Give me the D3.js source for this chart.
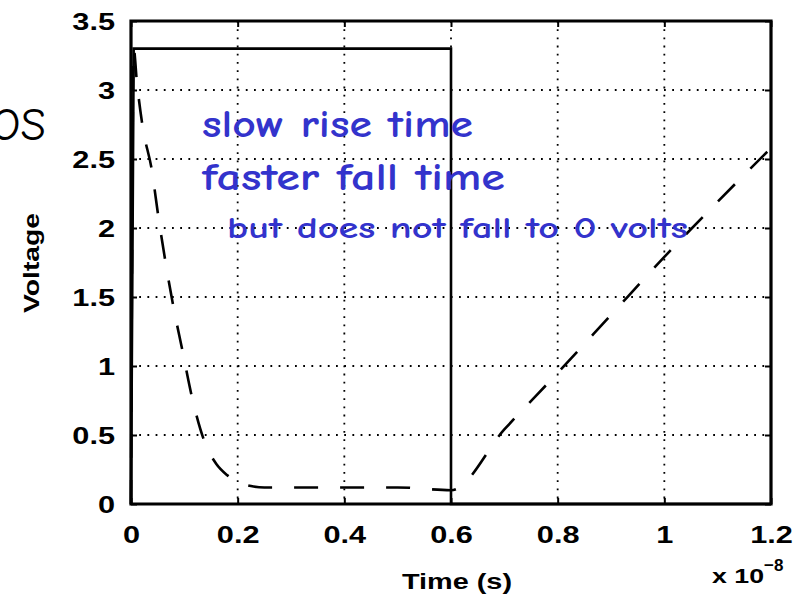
<!DOCTYPE html>
<html>
<head>
<meta charset="utf-8">
<script src="https://cdn.jsdelivr.net/npm/d3@7"></script>
<style>
body { margin: 0; background: #fff; }
svg { display: block; }
</style>
</head>
<body>
<svg id="chart" width="803" height="602"></svg>
<script>
// tick values (time axis is in units of 1e-8 s)
const xTicks = [0, 0.2, 0.4, 0.6, 0.8, 1, 1.2];
const yTicks = [0, 0.5, 1, 1.5, 2, 2.5, 3, 3.5];

// input pulse (solid)
const inTime = [0, 0.005, 0.6, 0.6, 1.2];
const inVolt = [0, 3.3, 3.3, 0, 0];

// output (dashed)
const outTime = [0, 0.005, 0.011, 0.022, 0.039, 0.051, 0.064, 0.079, 0.096, 0.114, 0.139, 0.16, 0.18, 0.2, 0.225, 0.25, 0.3, 0.4, 0.5, 0.6, 0.7, 0.8, 0.9, 1.0, 1.1, 1.2];
const outVolt = [0, 3.3, 3.06, 2.73, 2.42, 2.09, 1.77, 1.44, 1.12, 0.78, 0.44, 0.29, 0.21, 0.16, 0.13, 0.12, 0.12, 0.12, 0.12, 0.1, 0.54, 0.95, 1.37, 1.79, 2.19, 2.58];

const notes = ["slow rise time", "faster fall time", "but does not fall to 0 volts"];

const svg = d3.select("#chart");
const x = d3.scaleLinear().domain([0, 1.2]).range([131, 771]);
const y = d3.scaleLinear().domain([0, 3.5]).range([504, 21]);

const axisFont = "'Liberation Sans', Arial, sans-serif";
const noteFont = "'Comic Sans MS', 'Comic Neue', 'Open Sans', sans-serif";

// dotted grid
const grid = svg.append("g").attr("stroke", "#000").attr("stroke-width", 1.8)
    .attr("stroke-dasharray", "1.8,6.4");
grid.selectAll(".gx").data(xTicks.slice(1, -1)).enter().append("line")
    .attr("x1", d => x(d)).attr("x2", d => x(d))
    .attr("y1", y(3.5)).attr("y2", y(0));
grid.selectAll(".gy").data(yTicks.slice(1, -1)).enter().append("line")
    .attr("x1", x(0)).attr("x2", x(1.2))
    .attr("y1", d => y(d)).attr("y2", d => y(d));

// axes with inward ticks
function styleAxis(g) {
    g.select(".domain").remove();
    g.selectAll(".tick line").attr("stroke", "#000").attr("stroke-width", 2);
}
svg.append("g").attr("transform", `translate(0,${y(0)})`)
    .call(d3.axisBottom(x).tickValues(xTicks).tickSize(-6).tickSizeOuter(0).tickFormat(d => String(d)))
    .call(styleAxis)
    .call(g => g.selectAll(".tick text")
        .attr("y", 0).attr("dy", 0)
        .attr("transform", "translate(0,39) scale(1.28,1)")
        .attr("font-family", axisFont).attr("font-weight", "bold")
        .attr("font-size", 24).attr("fill", "#000"));
svg.append("g").attr("transform", `translate(0,${y(3.5)})`)
    .call(d3.axisTop(x).tickValues(xTicks).tickSize(-6).tickSizeOuter(0).tickFormat(""))
    .call(styleAxis);
svg.append("g").attr("transform", `translate(${x(0)},0)`)
    .call(d3.axisLeft(y).tickValues(yTicks).tickSize(-6).tickSizeOuter(0).tickFormat(d => String(d)))
    .call(styleAxis)
    .call(g => g.selectAll(".tick text")
        .attr("x", 0).attr("dy", "0.36em")
        .attr("transform", "translate(-16,0) scale(1.28,1)")
        .attr("font-family", axisFont).attr("font-weight", "bold")
        .attr("font-size", 24).attr("fill", "#000"));
svg.append("g").attr("transform", `translate(${x(1.2)},0)`)
    .call(d3.axisRight(y).tickValues(yTicks).tickSize(-6).tickSizeOuter(0).tickFormat(""))
    .call(styleAxis);

// lines
const line = d3.line().x(d => x(d[0])).y(d => y(d[1]));
svg.append("path")
    .datum(inTime.map((t, i) => [t, inVolt[i]]))
    .attr("d", line).attr("fill", "none").attr("stroke", "#000").attr("stroke-width", 2.6);
svg.append("path")
    .datum(outTime.map((t, i) => [t, outVolt[i]]))
    .attr("d", d3.line().x(d => x(d[0])).y(d => y(d[1])).curve(d3.curveMonotoneX))
    .attr("fill", "none").attr("stroke", "#000").attr("stroke-width", 2.6)
    .attr("stroke-dasharray", "24,22");

// frame
svg.append("path")
    .attr("d", `M${x(0)},${y(3.5)}H${x(1.2)}V${y(0)}H${x(0)}Z`)
    .attr("fill", "none").attr("stroke", "#000").attr("stroke-width", 3.2);

// axis titles
svg.append("text").attr("x", 457).attr("y", 589)
    .attr("text-anchor", "middle").attr("textLength", 110).attr("lengthAdjust", "spacingAndGlyphs")
    .attr("font-family", axisFont).attr("font-weight", "bold").attr("font-size", 22)
    .text("Time (s)");
svg.append("text").attr("transform", "translate(39,263) rotate(-90)")
    .attr("text-anchor", "middle").attr("textLength", 100).attr("lengthAdjust", "spacingAndGlyphs")
    .attr("font-family", axisFont).attr("font-weight", "bold").attr("font-size", 22)
    .text("Voltage");
const expo = svg.append("text").attr("x", 712).attr("y", 583)
    .attr("font-family", axisFont).attr("font-weight", "bold").attr("font-size", 21);
expo.append("tspan").attr("textLength", 52).attr("lengthAdjust", "spacingAndGlyphs").text("x 10");
expo.append("tspan").attr("dy", -12).attr("font-size", 17).text("\u22128");

// slide title fragment, cut off by the left edge as in the slide
svg.append("text").attr("x", 46).attr("y", 140).attr("text-anchor", "end")
    .attr("font-family", noteFont).attr("font-size", 46).attr("fill", "#000")
    .text("CMOS");

// annotations
const notePos = [[202, 137, 271, 38], [202, 190, 303, 38], [227, 238, 461, 31]];
svg.selectAll(".note").data(notes).enter().append("text")
    .attr("x", (d, i) => notePos[i][0]).attr("y", (d, i) => notePos[i][1])
    .attr("textLength", (d, i) => notePos[i][2]).attr("lengthAdjust", "spacingAndGlyphs")
    .attr("font-size", (d, i) => notePos[i][3]).attr("font-weight", "bold")
    .attr("font-family", noteFont).attr("fill", "#3333cc")
    .text(d => d);
</script>
</body>
</html>
